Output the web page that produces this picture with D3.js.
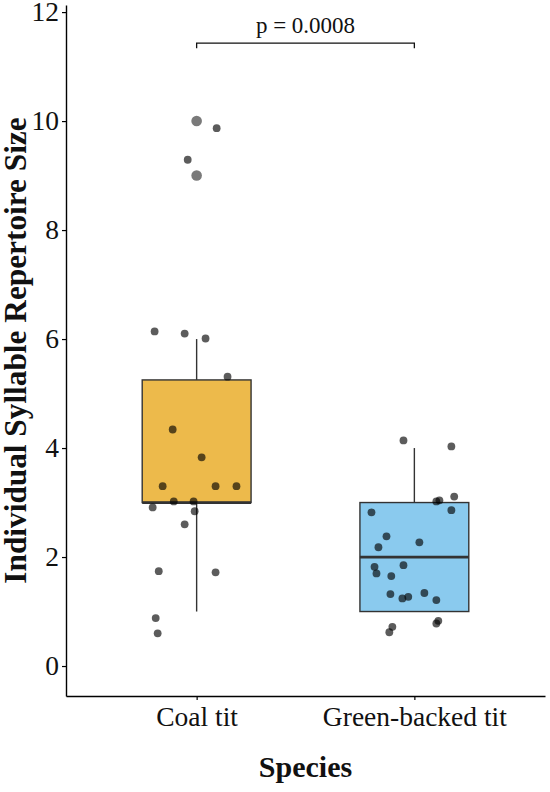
<!DOCTYPE html>
<html>
<head>
<meta charset="utf-8">
<script src="https://cdn.jsdelivr.net/npm/d3@7"></script>
<style>
  body { margin: 0; background: #fff; }
  text { font-family: "Liberation Serif", "Times New Roman", serif; }
</style>
</head>
<body>
<svg id="svg" width="550" height="792"></svg>
<script>
let width = 550;
let height = 792;

// categories and box stats (min, q1, median, q3, max)
let species = ["Coal tit", "Green-backed tit"];
let boxStats = [
    [1, 3, 3, 5.25, 6],
    [1, 1, 2, 3, 4]
];
let boxColors = ["#EDBA4B", "#8ACAEE"];
let outliers = [
    [10, 9],
    []
];

// jittered points: [x offset in category steps, value]
let coalPoints = [
    [-0.193, 6.14], [-0.055, 6.10], [0.041, 6.01], [0.142, 5.31], [0.092, 9.87],
    [-0.041, 9.29], [-0.110, 4.34], [0.023, 3.83], [-0.156, 3.30], [0.087, 3.30],
    [0.183, 3.30], [-0.105, 3.02], [-0.014, 3.02], [-0.202, 2.91], [-0.009, 2.84],
    [-0.055, 2.60], [-0.174, 1.74], [0.087, 1.72], [-0.188, 0.88], [-0.179, 0.60]
];
let greenPoints = [
    [-0.050, 4.14], [0.170, 4.03], [0.183, 3.11], [0.101, 3.02], [0.115, 3.04],
    [0.170, 2.86], [-0.197, 2.82], [-0.128, 2.38], [-0.165, 2.18], [0.023, 2.27],
    [-0.183, 1.82], [-0.050, 1.85], [-0.174, 1.70], [-0.106, 1.65], [-0.110, 1.32],
    [-0.055, 1.24], [-0.028, 1.27], [0.046, 1.34], [0.101, 1.21], [0.110, 0.83],
    [0.101, 0.78], [-0.101, 0.72], [-0.115, 0.62]
];
let yTicks = [0, 2, 4, 6, 8, 10, 12];
let pLabel = "p = 0.0008";
let pBracketY = 11.43;

let svg = d3.select("#svg");

let x = d3.scalePoint()
    .domain(species)
    .range([66, 545])
    .padding(0.6);

let y = d3.scaleLinear()
    .domain([-0.55, 12.13])
    .range([696, 5]);

let step = x.step();
let boxW = step * 0.5;

// boxes
species.forEach((s, i) => {
    let st = boxStats[i];
    let cx = x(s);
    let g = svg.append("g");
    g.append("line")
        .attr("x1", cx).attr("x2", cx)
        .attr("y1", y(st[4])).attr("y2", y(st[3]))
        .attr("stroke", "#333").attr("stroke-width", 1.4);
    g.append("line")
        .attr("x1", cx).attr("x2", cx)
        .attr("y1", y(st[1])).attr("y2", y(st[0]))
        .attr("stroke", "#333").attr("stroke-width", 1.4);
    g.append("rect")
        .attr("x", cx - boxW / 2)
        .attr("y", y(st[3]))
        .attr("width", boxW)
        .attr("height", y(st[1]) - y(st[3]))
        .attr("fill", boxColors[i])
        .attr("stroke", "#333")
        .attr("stroke-width", 1.4);
    g.append("line")
        .attr("x1", cx - boxW / 2).attr("x2", cx + boxW / 2)
        .attr("y1", y(st[2])).attr("y2", y(st[2]))
        .attr("stroke", "#333").attr("stroke-width", 2.8);
    g.selectAll(".outlier")
        .data(outliers[i])
        .enter()
        .append("circle")
        .attr("cx", cx)
        .attr("cy", d => y(d))
        .attr("r", 5.3)
        .attr("fill", "#7a7a7a");
});

// jittered points
let allPoints = [coalPoints, greenPoints];
allPoints.forEach((pts, i) => {
    svg.append("g").selectAll("circle")
        .data(pts)
        .enter()
        .append("circle")
        .attr("cx", d => x(species[i]) + d[0] * step)
        .attr("cy", d => y(d[1]))
        .attr("r", 3.9)
        .attr("fill", "#000")
        .attr("fill-opacity", 0.64);
});

// axes
let yAxis = svg.append("g")
    .attr("transform", "translate(66,0)")
    .call(d3.axisLeft(y).tickValues(yTicks).tickSize(4).tickPadding(3).tickSizeOuter(0));
yAxis.select(".domain").attr("stroke", "#000").attr("stroke-width", 1.4);
yAxis.selectAll(".tick line").attr("stroke", "#000").attr("stroke-width", 1.2);
yAxis.selectAll(".tick text")
    .attr("font-family", "Liberation Serif")
    .attr("font-size", 27.5)
    .attr("fill", "#111");

let xAxis = svg.append("g")
    .attr("transform", "translate(0,696)")
    .call(d3.axisBottom(x).tickSize(4).tickPadding(6).tickSizeOuter(0));
xAxis.select(".domain").attr("stroke", "#000").attr("stroke-width", 1.4);
xAxis.selectAll(".tick line").attr("stroke", "#000").attr("stroke-width", 1.2);
xAxis.selectAll(".tick text")
    .attr("font-family", "Liberation Serif")
    .attr("font-size", 27.5)
    .attr("fill", "#111");

// axis titles
svg.append("text")
    .attr("transform", `translate(26,${(5 + 696) / 2}) rotate(-90)`)
    .attr("text-anchor", "middle")
    .attr("font-size", 31.3)
    .attr("font-weight", "bold")
    .attr("fill", "#111")
    .text("Individual Syllable Repertoire Size");

svg.append("text")
    .attr("x", (66 + 545) / 2)
    .attr("y", 777)
    .attr("text-anchor", "middle")
    .attr("font-size", 30)
    .attr("font-weight", "bold")
    .attr("fill", "#111")
    .text("Species");

// significance bracket
let by = y(pBracketY);
svg.append("path")
    .attr("d", `M${x(species[0])},${by + 5}V${by}H${x(species[1])}V${by + 5}`)
    .attr("fill", "none")
    .attr("stroke", "#111")
    .attr("stroke-width", 1.3);
svg.append("text")
    .attr("x", (x(species[0]) + x(species[1])) / 2)
    .attr("y", by - 10)
    .attr("text-anchor", "middle")
    .attr("font-size", 23)
    .attr("fill", "#111")
    .text(pLabel);
</script>
</body>
</html>
